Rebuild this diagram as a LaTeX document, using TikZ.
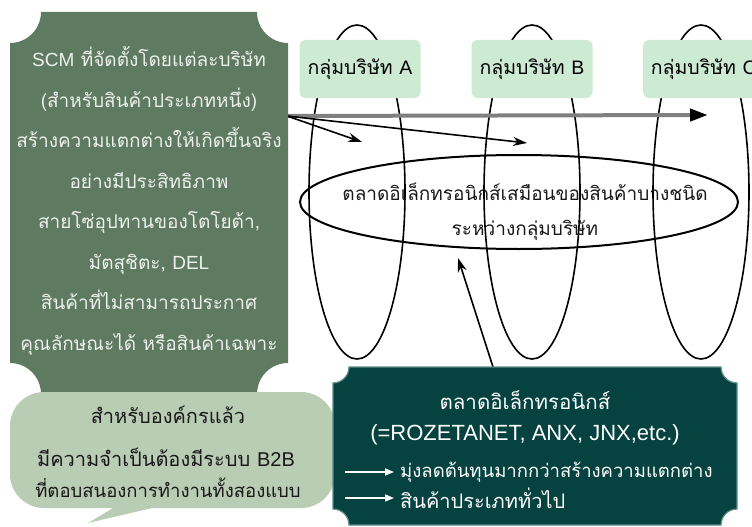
\documentclass[tikz,border=0pt]{standalone}
\usepackage{fontspec}
\setmainfont{Liberation Sans}
\newfontfamily\thai[Script=Thai]{Loma}
\newfontfamily\lat{Liberation Sans}
\usetikzlibrary{arrows.meta}
\definecolor{boxgreen}{RGB}{94,122,97}
\definecolor{callgreen}{RGB}{185,204,180}
\definecolor{mint}{RGB}{205,234,211}
\definecolor{tealbox}{RGB}{5,66,64}
\definecolor{tealedge}{RGB}{90,140,138}
\definecolor{lighttext}{RGB}{236,241,236}
\definecolor{arrowgray}{RGB}{128,128,128}
\definecolor{darktext}{RGB}{25,25,25}
% plaque with concave corners: x1 y1 x2 y2 r
\newcommand\plaquepath[5]{(#1,#2+#5) .. controls (#1+0.552*#5,#2+#5) and (#1+#5,#2+0.552*#5) .. (#1+#5,#2)
 -- (#3-#5,#2) .. controls (#3-#5,#2+0.552*#5) and (#3-0.552*#5,#2+#5) .. (#3,#2+#5)
 -- (#3,#4-#5) .. controls (#3-0.552*#5,#4-#5) and (#3-#5,#4-0.552*#5) .. (#3-#5,#4)
 -- (#1+#5,#4) .. controls (#1+#5,#4-0.552*#5) and (#1+0.552*#5,#4-#5) .. (#1,#4-#5) -- cycle}
\begin{document}
\begin{tikzpicture}[x=1pt,y=-1pt,
  grouplabel/.style={fill=mint, rounded corners=6pt, minimum width=121pt, minimum height=58pt, inner sep=0pt, font=\thai\fontsize{19.5}{22}\selectfont, text=black},
  grouploop/.style={draw=black, line width=1.6pt},
  thinarrow/.style={draw=black, line width=1.6pt, -{Stealth[length=14pt,width=9pt]}},
  whitearrow/.style={draw=white, line width=1.5pt, -{Triangle[length=9pt,width=7pt]}, shorten >=6pt},
  lighttxt/.style={text=lighttext, align=center, inner sep=0pt},
  darktxt/.style={text=darktext, align=center, inner sep=0pt},
  tealtxt/.style={text=white, inner sep=0pt}]
\useasboundingbox (0,0) rectangle (752,527);
\clip (0,0) rectangle (752,527);

% group loops
\draw[grouploop] (357,192) ellipse [x radius=48, y radius=167];
\draw[grouploop] (532,192) ellipse [x radius=48, y radius=167];
\draw[grouploop] (701,192) ellipse [x radius=48, y radius=167];

% virtual market ellipse
\draw[line width=2pt] (519,202) ellipse [x radius=219, y radius=47];
\node[darktxt, font=\thai\fontsize{19}{35}\selectfont] (vmkt) at (525,212)
  {ตลาดอิเล็กทรอนิกส์เสมือนของสินค้าบางชนิด\\ระหว่างกลุ่มบริษัท};

% arrows from SCM box
\coordinate (lbE) at (287,116);
\coordinate (gtip) at (708,115);
\coordinate (tipA) at (362,142);
\coordinate (tipB) at (527,143);
\draw[line width=4pt, arrowgray, -{Triangle[length=18pt,width=12pt,color=black]}] (lbE) -- (gtip);
\draw[thinarrow] (lbE) -- (tipA);
\draw[thinarrow] (lbE) -- (tipB);

% arrow from e-market box to virtual market
\coordinate (tealtop) at (493,367);
\coordinate (vtip) at (458,258);
\draw[thinarrow] (tealtop) -- (vtip);

% SCM box
\fill[boxgreen] \plaquepath{10}{12}{288}{394}{31};
\node[lighttxt, font=\thai\fontsize{19}{40.5}\selectfont] (scm) at (149,201)
  {{\lat SCM} ที่จัดตั้งโดยแต่ละบริษัท\\
   (สำหรับสินค้าประเภทหนึ่ง)\\
   สร้างความแตกต่างให้เกิดขึ้นจริง\\
   อย่างมีประสิทธิภาพ\\
   สายโซ่อุปทานของโตโยต้า,\\
   มัตสุชิตะ, {\lat DEL}\\
   สินค้าที่ไม่สามารถประกาศ\\
   คุณลักษณะได้ หรือสินค้าเฉพาะ};

% callout
\fill[callgreen] (165,505) -- (88,523) -- (118,505) -- cycle;
\fill[callgreen, rounded corners=34pt] (10,392) rectangle (335,508);
\node[darktxt, font=\thai\fontsize{20}{23}\selectfont] (c1) at (168,415) {สำหรับองค์กรแล้ว};
\node[darktxt, font=\thai\fontsize{20}{24}\selectfont] (c2) at (166,457) {มีความจำเป็นต้องมีระบบ {\lat B2B}};
\node[darktxt, font=\thai\fontsize{18.5}{22}\selectfont] (c3) at (168,488) {ที่ตอบสนองการทำงานทั้งสองแบบ};

% e-market box
\filldraw[fill=tealbox, draw=tealedge, line width=1.2pt] \plaquepath{333}{367}{737}{525}{16};
\node[tealtxt, font=\thai\fontsize{20.5}{24}\selectfont] (t1) at (525,400) {ตลาดอิเล็กทรอนิกส์};
\node[tealtxt, font=\lat\fontsize{22}{26}\selectfont] (t2) at (525,435) {(=ROZETANET, ANX, JNX,etc.)};
\node[tealtxt, anchor=west, font=\thai\fontsize{18.5}{21}\selectfont] (t3) at (400,472) {มุ่งลดต้นทุนมากกว่าสร้างความแตกต่าง};
\node[tealtxt, anchor=west, font=\thai\fontsize{20}{24}\selectfont] (t4) at (400,498) {สินค้าประเภททั่วไป};
\coordinate (w1) at (345,472);
\coordinate (w2) at (345,498);
\draw[whitearrow] (w1) -- (t3.west);
\draw[whitearrow] (w2) -- (t4.west);

% group labels
\node[grouplabel] (gA) at (360,69) {กลุ่มบริษัท {\lat A}};
\node[grouplabel] (gB) at (532,69) {กลุ่มบริษัท {\lat B}};
\node[grouplabel, anchor=west] (gC) at (643,69) {กลุ่มบริษัท {\lat C}};
\end{tikzpicture}
\end{document}
